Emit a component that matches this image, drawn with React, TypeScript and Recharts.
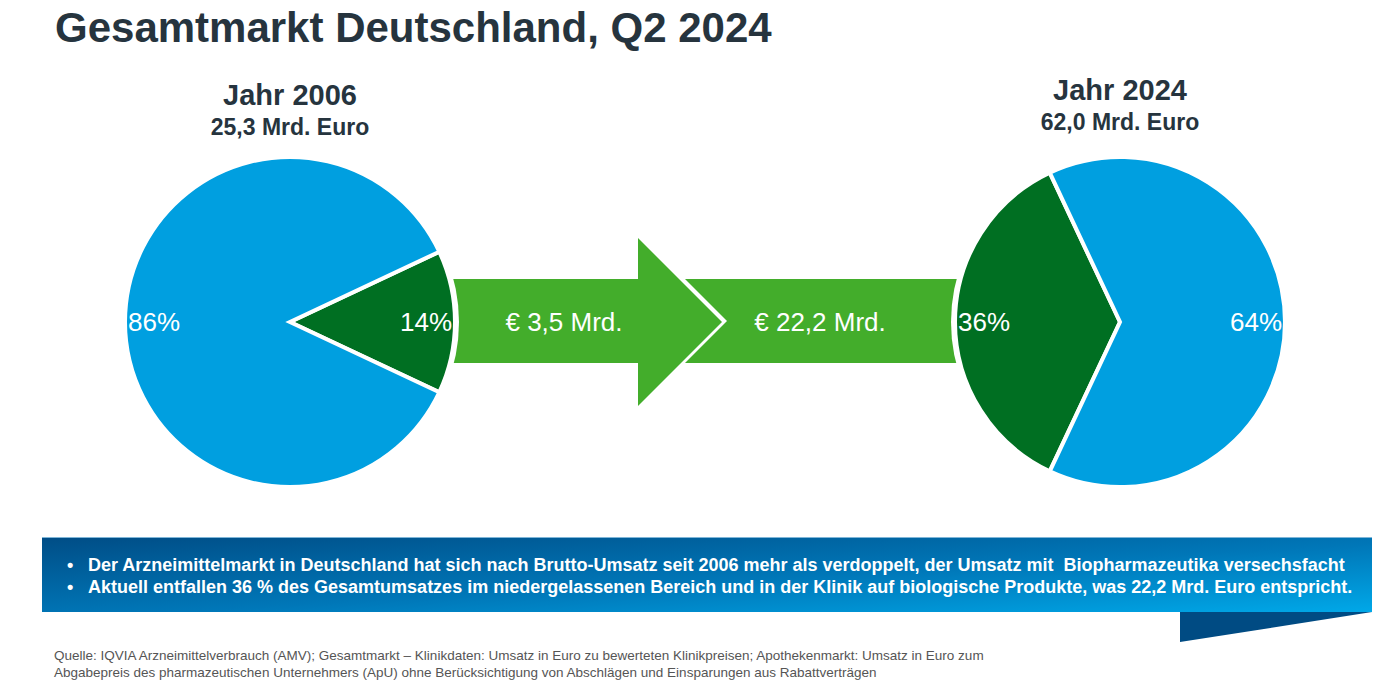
import { PieChart, Pie, Cell } from "recharts";

const years = ["Jahr 2006", "Jahr 2024"];
const totals = ["25,3 Mrd. Euro", "62,0 Mrd. Euro"];
const bioShare = [14, 36];
const otherShare = [86, 64];
const bioRevenue = ["€ 3,5 Mrd.", "€ 22,2 Mrd."];

const bullets = [
  "Der Arzneimittelmarkt in Deutschland hat sich nach Brutto-Umsatz seit 2006 mehr als verdoppelt, der Umsatz mit  Biopharmazeutika versechsfacht",
  "Aktuell entfallen 36 % des Gesamtumsatzes im niedergelassenen Bereich und in der Klinik auf biologische Produkte, was 22,2 Mrd. Euro entspricht.",
];

const sourceLines = [
  "Quelle: IQVIA Arzneimittelverbrauch (AMV); Gesamtmarkt – Klinikdaten: Umsatz in Euro zu bewerteten Klinikpreisen; Apothekenmarkt: Umsatz in Euro zum",
  "Abgabepreis des pharmazeutischen Unternehmers (ApU) ohne Berücksichtigung von Abschlägen und Einsparungen aus Rabattverträgen",
];

const FONT = "'Liberation Sans', Arial, Helvetica, sans-serif";
const BLUE = "#009fe0";
const DARK_GREEN = "#006f22";
const ARROW_GREEN = "#43ad2b";
const TEXT_DARK = "#26343e";

const pies = [
  { cx: 290, cy: 322, bioCenter: 0, headY: 105 },
  { cx: 1120, cy: 322, bioCenter: 180, headY: 100 },
];
const R = 165;
const RAD = Math.PI / 180;

const renderLabel = (props: any) => {
  const { cx, cy, midAngle, outerRadius, value } = props;
  const r = outerRadius - 29;
  const x = cx + r * Math.cos(-midAngle * RAD);
  const y = cy + r * Math.sin(-midAngle * RAD);
  return (
    <text
      x={x}
      y={y}
      fill="#ffffff"
      fontSize={26}
      fontFamily={FONT}
      textAnchor="middle"
      dominantBaseline="central"
    >
      {`${value}%`}
    </text>
  );
};

export default function App() {
  return (
    <div
      style={{
        position: "absolute",
        left: 0,
        top: 0,
        width: 1400,
        height: 700,
        background: "#ffffff",
        fontFamily: FONT,
      }}
    >
      <svg width={1400} height={700} style={{ position: "absolute", left: 0, top: 0 }}>
        <defs>
          <linearGradient id="banner" x1="0" y1="0" x2="1" y2="1">
            <stop offset="0%" stopColor="#004d86" />
            <stop offset="55%" stopColor="#0077b8" />
            <stop offset="100%" stopColor="#00a8e8" />
          </linearGradient>
        </defs>

        <text x={55} y={42} fontSize={42} fontWeight="bold" fill={TEXT_DARK} fontFamily={FONT}>
          Gesamtmarkt Deutschland, Q2 2024
        </text>

        {pies.map((p, i) => (
          <g key={i}>
            <text x={p.cx} y={p.headY} fontSize={29} fontWeight="bold" fill={TEXT_DARK} textAnchor="middle" fontFamily={FONT}>
              {years[i]}
            </text>
            <text x={p.cx} y={p.headY + 30} fontSize={23} fontWeight="bold" fill={TEXT_DARK} textAnchor="middle" fontFamily={FONT}>
              {totals[i]}
            </text>
          </g>
        ))}

        {/* arrow: tail + head, then notched band to the right pie */}
        <polygon
          points="400,279 638,279 638,238 722,322 638,406 638,363 400,363"
          fill={ARROW_GREEN}
        />
        <polygon
          points="685,279 1000,279 1000,363 685,363 727,321"
          fill={ARROW_GREEN}
        />
        {pies.map((p, i) => (
          <circle key={i} cx={p.cx} cy={p.cy} r={R + 4} fill="#ffffff" />
        ))}
        <text x={564} y={322} fontSize={26} fill="#ffffff" textAnchor="middle" dominantBaseline="central" fontFamily={FONT}>
          {bioRevenue[0]}
        </text>
        <text x={820} y={322} fontSize={26} fill="#ffffff" textAnchor="middle" dominantBaseline="central" fontFamily={FONT}>
          {bioRevenue[1]}
        </text>

        {/* info banner */}
        <rect x={42} y={537} width={1330} height={75} fill="url(#banner)" />
        <line x1={42} y1={537.5} x2={1372} y2={537.5} stroke="#7fb6d8" strokeWidth={1} />
        <polygon points="1180,612 1372,612 1180,642" fill="#004b83" />
        {bullets.map((b, i) => (
          <g key={i}>
            <text x={67} y={571 + i * 22} fontSize={18} fontWeight="bold" fill="#ffffff" fontFamily={FONT}>
              •
            </text>
            <text
              x={88}
              y={571 + i * 22}
              fontSize={18}
              fontWeight="bold"
              fill="#ffffff"
              fontFamily={FONT}
              style={{ whiteSpace: "pre" }}
            >
              {b}
            </text>
          </g>
        ))}

        {sourceLines.map((s, i) => (
          <text key={i} x={54} y={660 + i * 17} fontSize={13.5} fill="#555555" fontFamily={FONT}>
            {s}
          </text>
        ))}
      </svg>

      <div style={{ position: "absolute", left: 0, top: 0 }}>
        <PieChart width={1400} height={520} margin={{ top: 0, right: 0, bottom: 0, left: 0 }}>
          {pies.map((p, i) => {
            const data = [
              { name: "Biopharmazeutika", value: bioShare[i] },
              { name: "Sonstige", value: otherShare[i] },
            ];
            const start = p.bioCenter - (bioShare[i] * 3.6) / 2;
            return (
              <Pie
                key={i}
                data={data}
                dataKey="value"
                cx={p.cx}
                cy={p.cy}
                outerRadius={R}
                startAngle={start}
                endAngle={start + 360}
                stroke="#ffffff"
                strokeWidth={4}
                label={renderLabel}
                labelLine={false}
                isAnimationActive={false}
              >
                <Cell fill={DARK_GREEN} />
                <Cell fill={BLUE} />
              </Pie>
            );
          })}
        </PieChart>
      </div>
    </div>
  );
}
